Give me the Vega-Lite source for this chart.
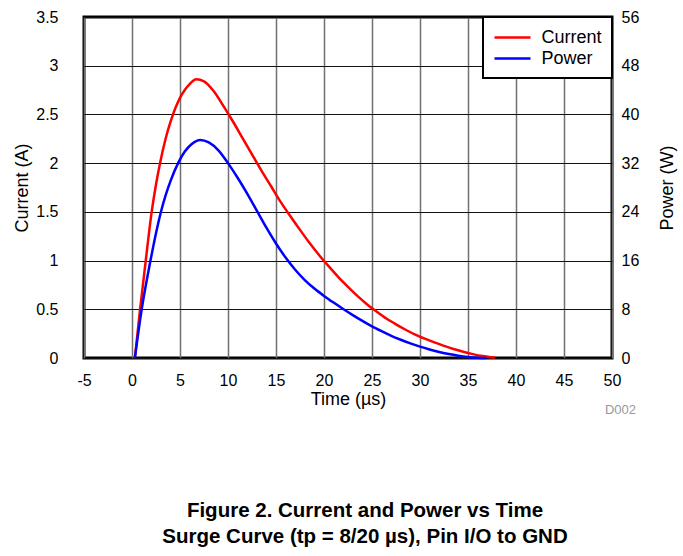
{
  "$schema": "https://vega.github.io/schema/vega-lite/v6.json",
  "width": 528,
  "height": 341,
  "autosize": {"type": "none"},
  "padding": {"left": 84, "top": 17, "right": 71, "bottom": 198},
  "background": "white",
  "config": {
    "font": "Liberation Sans",
    "view": {"stroke": "black", "strokeWidth": 3},
    "axis": {"labelFont": "Liberation Sans", "titleFont": "Liberation Sans", "labelColor": "black", "titleColor": "black", "labelFontSize": 16, "titleFontSize": 18, "titleFontWeight": "normal", "domain": false, "tickSize": 0, "labelFlush": false}
  },
  "title": {
    "text": ["Figure 2. Current and Power vs Time", "Surge Curve (tp = 8/20 µs), Pin I/O to GND"],
    "orient": "bottom",
    "anchor": "middle",
    "font": "Liberation Sans",
    "fontSize": 20.5,
    "fontWeight": "bold",
    "color": "black",
    "lineHeight": 26,
    "offset": 84,
    "dx": 17
  },
  "datasets": {
    "current": [
      {"t": 0.3, "v": 0, "series": "Current"},
      {"t": 0.83, "v": 0.49, "series": "Current"},
      {"t": 1.42, "v": 0.99, "series": "Current"},
      {"t": 2.05, "v": 1.5, "series": "Current"},
      {"t": 2.5, "v": 1.78, "series": "Current"},
      {"t": 2.92, "v": 2.0, "series": "Current"},
      {"t": 3.5, "v": 2.25, "series": "Current"},
      {"t": 4.0, "v": 2.42, "series": "Current"},
      {"t": 4.5, "v": 2.56, "series": "Current"},
      {"t": 5.0, "v": 2.67, "series": "Current"},
      {"t": 5.5, "v": 2.75, "series": "Current"},
      {"t": 6.0, "v": 2.81, "series": "Current"},
      {"t": 6.7, "v": 2.86, "series": "Current"},
      {"t": 7.5, "v": 2.84, "series": "Current"},
      {"t": 8.5, "v": 2.74, "series": "Current"},
      {"t": 9.5, "v": 2.59, "series": "Current"},
      {"t": 10.5, "v": 2.43, "series": "Current"},
      {"t": 11.5, "v": 2.26, "series": "Current"},
      {"t": 12.5, "v": 2.09, "series": "Current"},
      {"t": 13.5, "v": 1.92, "series": "Current"},
      {"t": 14.5, "v": 1.76, "series": "Current"},
      {"t": 15.5, "v": 1.6, "series": "Current"},
      {"t": 16.5, "v": 1.455, "series": "Current"},
      {"t": 17.5, "v": 1.315, "series": "Current"},
      {"t": 18.5, "v": 1.18, "series": "Current"},
      {"t": 19.5, "v": 1.055, "series": "Current"},
      {"t": 20.5, "v": 0.94, "series": "Current"},
      {"t": 21.5, "v": 0.83, "series": "Current"},
      {"t": 22.5, "v": 0.73, "series": "Current"},
      {"t": 23.5, "v": 0.635, "series": "Current"},
      {"t": 24.5, "v": 0.55, "series": "Current"},
      {"t": 25.5, "v": 0.475, "series": "Current"},
      {"t": 26.5, "v": 0.405, "series": "Current"},
      {"t": 27.5, "v": 0.345, "series": "Current"},
      {"t": 28.5, "v": 0.29, "series": "Current"},
      {"t": 29.5, "v": 0.24, "series": "Current"},
      {"t": 30.5, "v": 0.198, "series": "Current"},
      {"t": 31.5, "v": 0.16, "series": "Current"},
      {"t": 32.5, "v": 0.125, "series": "Current"},
      {"t": 33.5, "v": 0.092, "series": "Current"},
      {"t": 34.5, "v": 0.064, "series": "Current"},
      {"t": 35.5, "v": 0.04, "series": "Current"},
      {"t": 36.5, "v": 0.02, "series": "Current"},
      {"t": 37.8, "v": 0.004, "series": "Current"}
    ],
    "power": [
      {"t": 0.3, "v": 0, "series": "Power"},
      {"t": 1.0, "v": 7.9, "series": "Power"},
      {"t": 1.9, "v": 15.8, "series": "Power"},
      {"t": 2.5, "v": 20.5, "series": "Power"},
      {"t": 3.0, "v": 23.9, "series": "Power"},
      {"t": 3.5, "v": 26.7, "series": "Power"},
      {"t": 4.0, "v": 29.0, "series": "Power"},
      {"t": 4.8, "v": 32.0, "series": "Power"},
      {"t": 5.5, "v": 33.9, "series": "Power"},
      {"t": 6.2, "v": 35.1, "series": "Power"},
      {"t": 7.1, "v": 35.8, "series": "Power"},
      {"t": 8.0, "v": 35.4, "series": "Power"},
      {"t": 9.0, "v": 34.1, "series": "Power"},
      {"t": 10.0, "v": 32.0, "series": "Power"},
      {"t": 11.0, "v": 29.6, "series": "Power"},
      {"t": 12.0, "v": 27.0, "series": "Power"},
      {"t": 13.0, "v": 24.2, "series": "Power"},
      {"t": 14.0, "v": 21.4, "series": "Power"},
      {"t": 15.0, "v": 18.8, "series": "Power"},
      {"t": 16.0, "v": 16.5, "series": "Power"},
      {"t": 17.0, "v": 14.5, "series": "Power"},
      {"t": 18.0, "v": 12.8, "series": "Power"},
      {"t": 19.0, "v": 11.4, "series": "Power"},
      {"t": 20.0, "v": 10.2, "series": "Power"},
      {"t": 21.0, "v": 9.1, "series": "Power"},
      {"t": 22.0, "v": 8.05, "series": "Power"},
      {"t": 23.0, "v": 7.05, "series": "Power"},
      {"t": 24.0, "v": 6.1, "series": "Power"},
      {"t": 25.0, "v": 5.2, "series": "Power"},
      {"t": 26.0, "v": 4.4, "series": "Power"},
      {"t": 27.0, "v": 3.65, "series": "Power"},
      {"t": 28.0, "v": 3.0, "series": "Power"},
      {"t": 29.0, "v": 2.4, "series": "Power"},
      {"t": 30.0, "v": 1.86, "series": "Power"},
      {"t": 31.0, "v": 1.4, "series": "Power"},
      {"t": 32.0, "v": 1.0, "series": "Power"},
      {"t": 33.0, "v": 0.65, "series": "Power"},
      {"t": 34.0, "v": 0.38, "series": "Power"},
      {"t": 35.0, "v": 0.18, "series": "Power"},
      {"t": 36.0, "v": 0.05, "series": "Power"},
      {"t": 36.9, "v": 0, "series": "Power"}
    ],
    "note": [{"t": 50, "v": 0, "label": "D002"}]
  },
  "layer": [
    {
      "data": {"name": "current"},
      "mark": {"type": "line", "strokeWidth": 2.5, "interpolate": "monotone"},
      "encoding": {
        "x": {"field": "t", "type": "quantitative", "scale": {"domain": [-5, 50], "nice": false},
          "axis": {"title": "Time (µs)", "values": [-5, 0, 5, 10, 15, 20, 25, 30, 35, 40, 45, 50], "labelExpr": "datum.value + ''", "grid": true, "gridColor": "#707070", "gridWidth": 1.5, "gridOpacity": 1, "labelPadding": 14, "titlePadding": 2}},
        "y": {"field": "v", "type": "quantitative", "scale": {"domain": [0, 3.5], "nice": false},
          "axis": {"title": "Current (A)", "orient": "left", "values": [0, 0.5, 1, 1.5, 2, 2.5, 3, 3.5], "labelExpr": "datum.value + ''", "grid": true, "gridColor": "#111111", "gridWidth": 1, "gridOpacity": 1, "labelPadding": 26, "titlePadding": 4}},
        "color": {"field": "series", "type": "nominal",
          "scale": {"domain": ["Current", "Power"], "range": ["#ff0000", "#0000ff"]},
          "legend": {"title": null, "orient": "top-right", "offset": 0, "fillColor": "white", "strokeColor": "black", "padding": 10, "symbolType": "M-1,0H3", "symbolSize": 324, "symbolStrokeWidth": 2.5, "labelFontSize": 18, "labelFont": "Liberation Sans", "labelColor": "black", "labelOffset": 27.5, "rowPadding": 1,
            "encode": {"legend": {"update": {"strokeWidth": {"value": 2}}}}}
        }
      }
    },
    {
      "data": {"name": "power"},
      "mark": {"type": "line", "strokeWidth": 2.5, "interpolate": "monotone"},
      "encoding": {
        "x": {"field": "t", "type": "quantitative"},
        "y": {"field": "v", "type": "quantitative", "scale": {"domain": [0, 56], "nice": false},
          "axis": {"title": "Power (W)", "orient": "right", "values": [0, 8, 16, 24, 32, 40, 48, 56], "grid": false, "labelPadding": 9, "titlePadding": 20, "titleAngle": 270, "titleBaseline": "top"}},
        "color": {"field": "series", "type": "nominal"}
      }
    },
    {
      "data": {"name": "note"},
      "mark": {"type": "text", "align": "right", "baseline": "middle", "dx": 24, "dy": 52, "fontSize": 13, "color": "#999999", "font": "Liberation Sans"},
      "encoding": {
        "x": {"field": "t", "type": "quantitative"},
        "y": {"field": "v", "type": "quantitative", "scale": {"domain": [0, 3.5], "nice": false}, "axis": null},
        "text": {"field": "label"}
      }
    }
  ],
  "resolve": {"scale": {"y": "independent"}}
}
